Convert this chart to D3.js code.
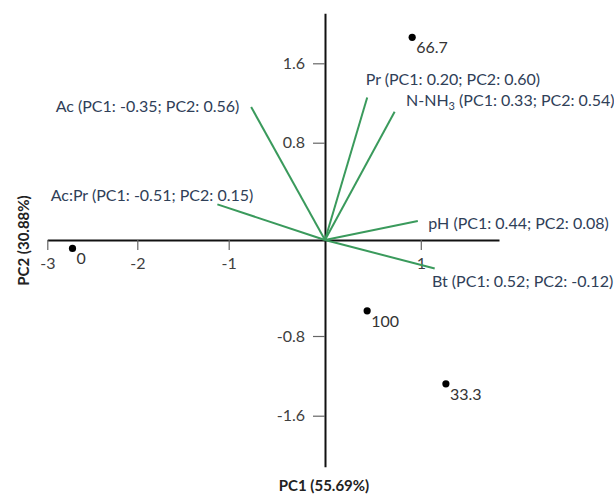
<!DOCTYPE html>
<html>
<head>
<meta charset="utf-8">
<script src="https://cdn.jsdelivr.net/npm/d3@7"></script>
<style>
  html, body { margin: 0; padding: 0; background: #ffffff; }
  svg { display: block; }
  text { font-family: Lato, "Open Sans", sans-serif; }
</style>
</head>
<body>
<svg id="chart" width="614" height="495"></svg>
<script>
// ---- data ----
const groups = ["0", "33.3", "66.7", "100"];
const groupPC1 = [-2.72, 1.26, 0.91, 0.44];
const groupPC2 = [-0.07, -1.28, 1.86, -0.59];

const variables = ["Ac", "Ac:Pr", "Pr", "N-NH3", "pH", "Bt"];
const loadPC1 = [-0.35, -0.51, 0.20, 0.33, 0.44, 0.52];
const loadPC2 = [0.56, 0.15, 0.60, 0.54, 0.08, -0.12];

const xTicks = [-3, -2, -1, 1];
const yTicks = [1.6, 0.8, -0.8, -1.6];
const xTitle = "PC1 (55.69%)";
const yTitle = "PC2 (30.88%)";

// ---- layout ----
const svg = d3.select("#chart");
const x = d3.scaleLinear()
  .domain([-3, -2, -1, 0, 1, 1.81])
  .range([47.3, 137.3, 228.7, 325, 420.8, 499]);
const y = d3.scaleLinear()
  .domain([-2.11, -1.6, -0.8, 0, 0.8, 1.6, 2.1])
  .range([466.7, 415.7, 336, 240, 142.7, 63.3, 13.3]);
// loading-vector scales (biplot scaling of loadings)
const lx = d3.scaleLinear().domain([0, 1]).range([x(0), x(0) + 211]);
const ly = d3.scaleLinear().domain([0, 1]).range([y(0), y(0) - 237.6]);

const fmt = d => String(d);
const fmtY = d => d.toFixed(1);

// x axis
const gx = svg.append("g")
  .attr("transform", `translate(0,${y(0)})`)
  .call(d3.axisBottom(x).tickValues(xTicks).tickSize(10).tickSizeOuter(0).tickPadding(8).tickFormat(fmt));
// y axis
const gy = svg.append("g")
  .attr("transform", `translate(${x(0)},0)`)
  .call(d3.axisLeft(y).tickValues(yTicks).tickSize(12).tickSizeOuter(0).tickPadding(8).tickFormat(fmtY));

[gx, gy].forEach(g => {
  g.select(".domain").attr("stroke", "#111").attr("stroke-width", 2);
  g.selectAll(".tick line").attr("stroke", "#666").attr("stroke-width", 1.2);
  g.selectAll(".tick text").attr("fill", "#404040").style("font-size", "16px")
    .style("font-family", "Lato, 'Open Sans', sans-serif");
});

// loading vectors
const vecColor = "#3a9a5c";
const labelColor = "#2f4058";
const labelLayout = {
  "Ac":    { anchor: "end",   dx: -11.8, dy: 4.7 },
  "Ac:Pr": { anchor: "end",   dx: 35.9,  dy: -3.5 },
  "Pr":    { anchor: "start", dx: -1.5,  dy: -12.4 },
  "N-NH3": { anchor: "start", dx: 11.4,  dy: -6 },
  "pH":    { anchor: "start", dx: 10.5,  dy: 8 },
  "Bt":    { anchor: "start", dx: -2.8,  dy: 18.2 }
};

const vg = svg.append("g");
variables.forEach((v, i) => {
  const tx = lx(loadPC1[i]);
  const ty = ly(loadPC2[i]);
  vg.append("line")
    .attr("x1", x(0)).attr("y1", y(0))
    .attr("x2", tx).attr("y2", ty)
    .attr("stroke", vecColor).attr("stroke-width", 2);
  const L = labelLayout[v];
  const t = vg.append("text")
    .attr("x", tx + L.dx).attr("y", ty + L.dy)
    .attr("text-anchor", L.anchor)
    .attr("fill", labelColor)
    .style("font-size", "16px");
  const coords = `(PC1: ${loadPC1[i].toFixed(2)}; PC2: ${loadPC2[i].toFixed(2)})`;
  if (v === "N-NH3") {
    t.append("tspan").text("N-NH");
    t.append("tspan").text("3").attr("dy", 4).style("font-size", "11px");
    t.append("tspan").text(" " + coords).attr("dy", -4);
  } else {
    t.text(v + " " + coords);
  }
});

// score points
const pg = svg.append("g");
groups.forEach((gname, i) => {
  const cx = x(groupPC1[i]), cy = y(groupPC2[i]);
  pg.append("circle").attr("cx", cx).attr("cy", cy).attr("r", 3.6).attr("fill", "#000");
  pg.append("text").attr("x", cx + 4).attr("y", cy + 16)
    .attr("fill", "#333").style("font-size", "16px").text(gname);
});

// axis titles
svg.append("text")
  .attr("x", 324).attr("y", 491)
  .attr("text-anchor", "middle")
  .attr("fill", "#222")
  .style("font-size", "15px").style("font-weight", "bold")
  .text(xTitle);
svg.append("text")
  .attr("transform", "translate(29,240.5) rotate(-90)")
  .attr("text-anchor", "middle")
  .attr("fill", "#222")
  .style("font-size", "15px").style("font-weight", "bold")
  .text(yTitle);
</script>
</body>
</html>
